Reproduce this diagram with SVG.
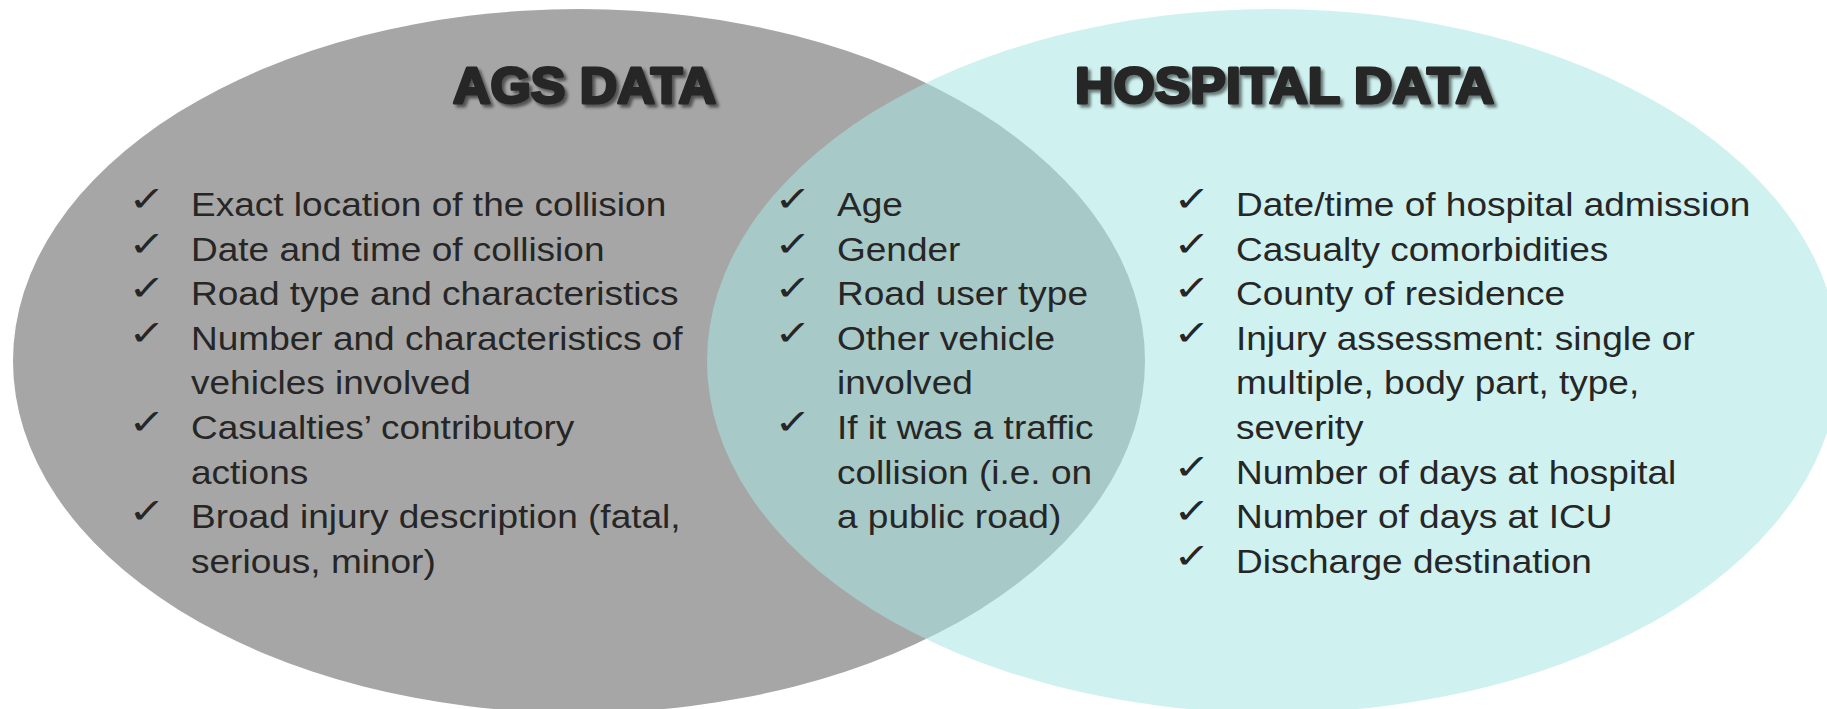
<svg xmlns="http://www.w3.org/2000/svg" width="1827" height="709" viewBox="0 0 1827 709">
<style>
.t{font-family:"Liberation Sans",Arial,sans-serif;font-size:33.5px;fill:#262626}
.ck{font-family:"DejaVu Sans",sans-serif;font-size:35px;fill:#262626}
.ttl{font-family:"Liberation Sans",Arial,sans-serif;font-weight:bold;font-size:50px;fill:#262626;stroke:#262626;stroke-width:3;stroke-linejoin:round}
</style>
<defs>
<filter id="sh" x="-10%" y="-30%" width="130%" height="170%">
<feDropShadow dx="3" dy="3" stdDeviation="1.8" flood-color="#000" flood-opacity="0.5"/>
</filter>
</defs>
<rect width="1827" height="709" fill="#ffffff"/>
<g id="ags">
<ellipse cx="579" cy="361" rx="566" ry="352" fill="#A6A6A6"/>
</g>
<g id="hospital">
<ellipse cx="1273" cy="361" rx="566" ry="352" fill="#A8E6E4" fill-opacity="0.55"/>
</g>
<g id="connectors"/>
<g id="ags-title">
<text class="ttl" x="453" y="103" textLength="263" lengthAdjust="spacingAndGlyphs" filter="url(#sh)">AGS DATA</text>
</g>
<g id="hospital-title">
<text class="ttl" x="1075" y="103" textLength="419" lengthAdjust="spacingAndGlyphs" filter="url(#sh)">HOSPITAL DATA</text>
</g>
<g id="ags-list" transform="translate(191,0) scale(1.105,1)">
<g transform="scale(1.16,1)">
<text class="ck" x="-49" y="211">✓</text>
<text class="ck" x="-49" y="255.6">✓</text>
<text class="ck" x="-49" y="300.2">✓</text>
<text class="ck" x="-49" y="344.8">✓</text>
<text class="ck" x="-49" y="434">✓</text>
<text class="ck" x="-49" y="523.2">✓</text>
</g>
<text class="t" x="0" y="216">Exact location of the collision</text>
<text class="t" x="0" y="260.6">Date and time of collision</text>
<text class="t" x="0" y="305.2">Road type and characteristics</text>
<text class="t" x="0" y="349.8">Number and characteristics of</text>
<text class="t" x="0" y="394.4">vehicles involved</text>
<text class="t" x="0" y="439">Casualties’ contributory</text>
<text class="t" x="0" y="483.6">actions</text>
<text class="t" x="0" y="528.2">Broad injury description (fatal,</text>
<text class="t" x="0" y="572.8">serious, minor)</text>
</g>
<g id="shared-list" transform="translate(837,0) scale(1.105,1)">
<g transform="scale(1.16,1)">
<text class="ck" x="-49" y="211">✓</text>
<text class="ck" x="-49" y="255.6">✓</text>
<text class="ck" x="-49" y="300.2">✓</text>
<text class="ck" x="-49" y="344.8">✓</text>
<text class="ck" x="-49" y="434">✓</text>
</g>
<text class="t" x="0" y="216">Age</text>
<text class="t" x="0" y="260.6">Gender</text>
<text class="t" x="0" y="305.2">Road user type</text>
<text class="t" x="0" y="349.8">Other vehicle</text>
<text class="t" x="0" y="394.4">involved</text>
<text class="t" x="0" y="439">If it was a traffic</text>
<text class="t" x="0" y="483.6">collision (i.e. on</text>
<text class="t" x="0" y="528.2">a public road)</text>
</g>
<g id="hospital-list" transform="translate(1236,0) scale(1.105,1)">
<g transform="scale(1.16,1)">
<text class="ck" x="-49" y="211">✓</text>
<text class="ck" x="-49" y="255.6">✓</text>
<text class="ck" x="-49" y="300.2">✓</text>
<text class="ck" x="-49" y="344.8">✓</text>
<text class="ck" x="-49" y="478.6">✓</text>
<text class="ck" x="-49" y="523.2">✓</text>
<text class="ck" x="-49" y="567.8">✓</text>
</g>
<text class="t" x="0" y="216">Date/time of hospital admission</text>
<text class="t" x="0" y="260.6">Casualty comorbidities</text>
<text class="t" x="0" y="305.2">County of residence</text>
<text class="t" x="0" y="349.8">Injury assessment: single or</text>
<text class="t" x="0" y="394.4">multiple, body part, type,</text>
<text class="t" x="0" y="439">severity</text>
<text class="t" x="0" y="483.6">Number of days at hospital</text>
<text class="t" x="0" y="528.2">Number of days at ICU</text>
<text class="t" x="0" y="572.8">Discharge destination</text>
</g>
</svg>
